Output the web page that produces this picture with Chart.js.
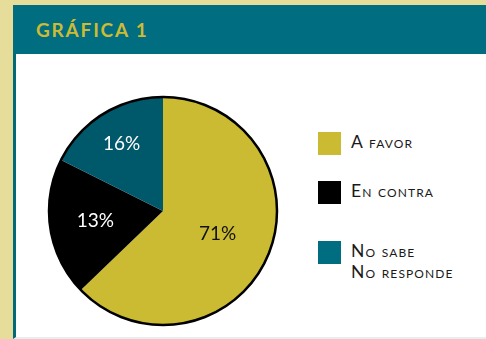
<!DOCTYPE html>
<html>
<head>
<meta charset="utf-8">
<script src="https://cdn.jsdelivr.net/npm/chart.js@4"></script>
<style>
  body { margin: 0; width: 486px; height: 339px; background: #e6dd9a; position: relative; overflow: hidden; font-family: Lato, "Open Sans", sans-serif; }
  #cabecera { position: absolute; left: 13px; top: 5px; width: 473px; height: 49px; background: #006e80; }
  #cabecera span { position: absolute; left: 23px; top: 13px; font-size: 19px; font-weight: bold; letter-spacing: 1.8px; color: #cdbb35; }
  #panel { position: absolute; left: 13px; top: 54px; width: 470px; height: 283px; background: #fff; border-left: 3px solid #00697a; border-bottom: 2px solid #e6eeee; }
  #grafico { position: absolute; left: 47px; top: 95px; }
  #leyenda { position: absolute; left: 318px; top: 0; width: 168px; }
  .item { position: absolute; left: 0; width: 168px; display: flex; align-items: flex-start; }
  .caja { width: 23px; height: 23px; flex: none; }
  .texto { margin-left: 10px; font-size: 17.5px; font-variant: small-caps; color: #1a1a1a; white-space: pre; line-height: 21px; margin-top: -1px; letter-spacing: 1.1px; }
</style>
</head>
<body>
<div id="cabecera"><span>GRÁFICA 1</span></div>
<div id="panel"></div>
<canvas id="grafico" width="232" height="232"></canvas>
<div id="leyenda"></div>
<script>
// categorias y valores
const categorias = ['A favor', 'En contra', 'No sabe\nNo responde'];
// tamaño de cada porción tal como está dibujada en la gráfica original
const porciones = [62.8, 19.6, 17.6];
// porcentajes impresos sobre cada porción
const etiquetas = ['71%', '13%', '16%'];

const coloresPorcion = ['#cbbb33', '#000000', '#00586b'];
const coloresLeyenda = ['#cbbb33', '#000000', '#006e80'];
const coloresTexto = ['#111111', '#ffffff', '#ffffff'];
const radioEtiqueta = [0.52, 0.6, 0.69];
const topLeyenda = [132, 181, 241];

// leyenda en html (versalitas)
const leyenda = document.getElementById('leyenda');
categorias.forEach((cat, i) => {
  const item = document.createElement('div');
  item.className = 'item';
  item.style.top = topLeyenda[i] + 'px';
  item.innerHTML = `<div class="caja" style="background:${coloresLeyenda[i]}"></div><div class="texto">${cat}</div>`;
  leyenda.appendChild(item);
});

const bordeExterior = {
  id: 'bordeExterior',
  afterDatasetsDraw(chart) {
    const arcos = chart.getDatasetMeta(0).data;
    if (!arcos.length) return;
    const { x, y, outerRadius } = arcos[0].getProps(['x', 'y', 'outerRadius'], true);
    const ctx = chart.ctx;
    ctx.save();
    ctx.beginPath();
    ctx.arc(x, y, outerRadius, 0, Math.PI * 2);
    ctx.lineWidth = 2.5;
    ctx.strokeStyle = '#000';
    ctx.stroke();
    ctx.restore();
  }
};

const textoPorciones = {
  id: 'textoPorciones',
  afterDatasetsDraw(chart) {
    const ctx = chart.ctx;
    chart.getDatasetMeta(0).data.forEach((arco, i) => {
      const { x, y, startAngle, endAngle, outerRadius } = arco.getProps(['x', 'y', 'startAngle', 'endAngle', 'outerRadius'], true);
      const medio = (startAngle + endAngle) / 2;
      const r = outerRadius * radioEtiqueta[i];
      ctx.save();
      ctx.font = '19px Lato, "Open Sans", sans-serif';
      ctx.fillStyle = coloresTexto[i];
      ctx.textAlign = 'center';
      ctx.textBaseline = 'middle';
      ctx.fillText(etiquetas[i], x + Math.cos(medio) * r, y + Math.sin(medio) * r);
      ctx.restore();
    });
  }
};

new Chart(document.getElementById('grafico'), {
  type: 'pie',
  data: {
    labels: categorias,
    datasets: [{
      data: porciones,
      backgroundColor: coloresPorcion,
      borderWidth: 0
    }]
  },
  options: {
    responsive: false,
    animation: false,
    layout: { padding: 2 },
    plugins: {
      legend: { display: false },
      tooltip: { enabled: false }
    }
  },
  plugins: [bordeExterior, textoPorciones]
});
</script>
</body>
</html>
